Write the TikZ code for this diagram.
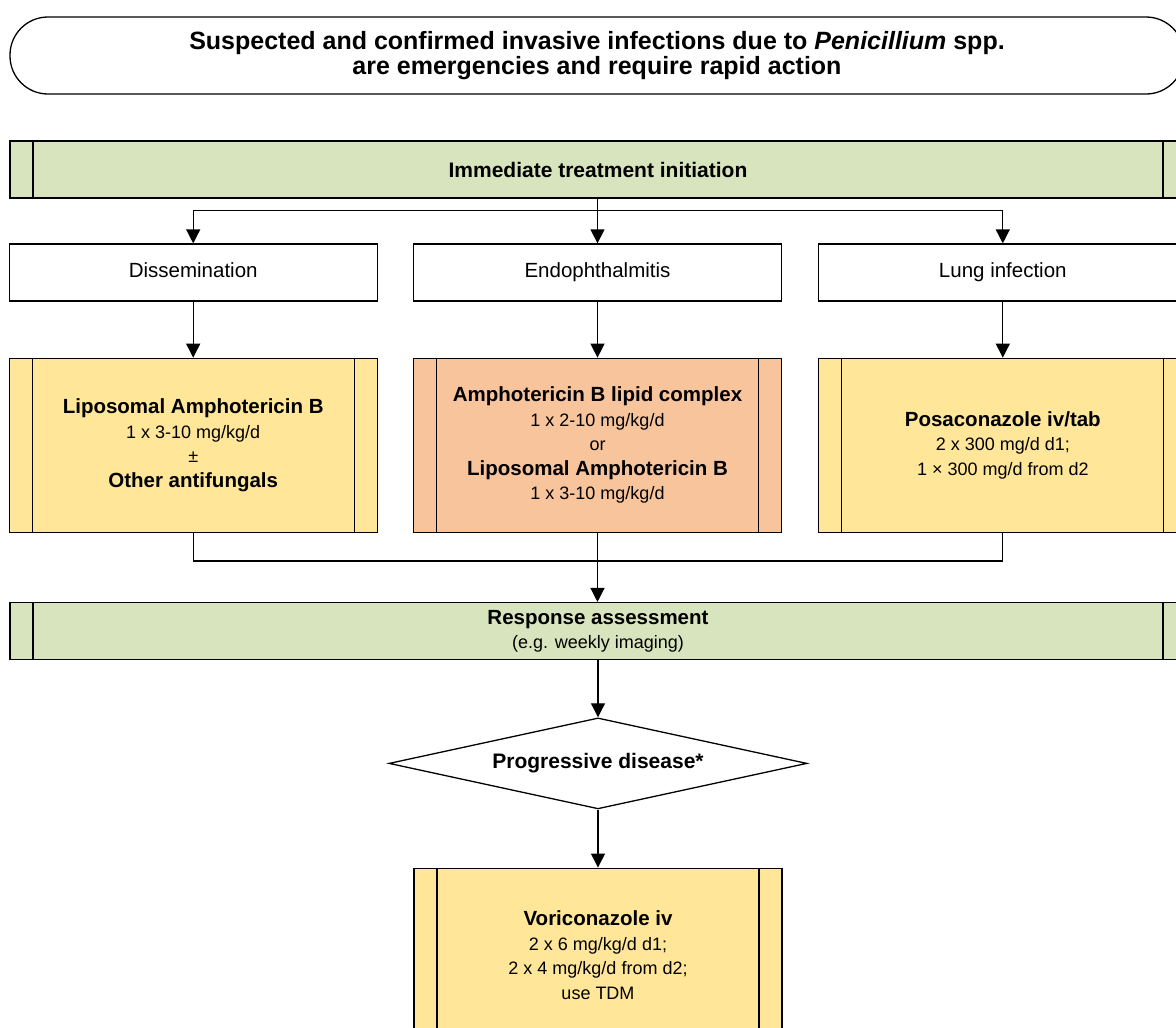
\documentclass[tikz,border=0pt]{standalone}
\usepackage{fontspec}
\setmainfont{Liberation Sans}
\usetikzlibrary{
  arrows.meta,
  positioning,
  shapes.geometric
}
\definecolor{stepgreen}{HTML}{D7E4BD}
\definecolor{drugyellow}{HTML}{FFE699}
\definecolor{drugorange}{HTML}{F8C49C}
\newcommand{\dose}{\fontsize{18}{24}\selectfont}

\begin{document}
\begin{tikzpicture}[
  x=1pt,
  y=-1pt,
  line width=1.3pt,
  font=\fontsize{20.5}{24.5}\selectfont,
  % box with a double bar at each side
  barred/.style={
    draw,
    path picture={
      \draw ([xshift=23pt]path picture bounding box.north west)
        -- ([xshift=23pt]path picture bounding box.south west);
      \draw ([xshift=-23pt]path picture bounding box.north east)
        -- ([xshift=-23pt]path picture bounding box.south east);
    }
  },
  titlebox/.style={
    draw,
    rounded corners=38pt,
    align=center,
    minimum width=1174pt,
    minimum height=77pt,
    font=\fontsize{25}{25}\selectfont\bfseries
  },
  phase/.style={
    barred,
    align=center,
    fill=stepgreen,
    minimum width=1176pt,
    minimum height=57pt,
    inner sep=0pt
  },
  site/.style={
    draw,
    align=center,
    minimum width=368pt,
    minimum height=57pt,
    text height=14pt,
    text depth=4pt
  },
  drug/.style={
    barred,
    align=center,
    fill=drugyellow,
    minimum width=368pt,
    minimum height=174pt
  },
  decision/.style={
    draw,
    diamond,
    aspect=4.6,
    inner sep=0pt,
    minimum width=418pt,
    minimum height=91pt,
    font=\fontsize{21}{24}\selectfont\bfseries
  },
  arrow/.style={
    -{Triangle[length=14pt,width=14pt]}
  }
]

\useasboundingbox (0,0) rectangle (1176,1028);
\clip (0,0) rectangle (1176,1028);

\node[titlebox] (title) at (597,55.5)
  {Suspected and confirmed invasive infections due to \textit{Penicillium} spp.\\
   are emergencies and require rapid action};

\node[phase] (start) at (598,169.5)
  {\fontsize{21}{24}\selectfont\bfseries Immediate treatment initiation};

\node[site] (endo) at (597.5,272.5) {Endophthalmitis};
\node[site,left=35pt of endo] (diss) {Dissemination};
\node[site,right=36pt of endo] (lung) {Lung infection};

\node[drug,below=56pt of diss] (lamb)
  {\textbf{Liposomal Amphotericin B}\\
   {\dose 1 x 3-10 mg/kg/d}\\
   {\dose ±}\\
   \textbf{Other antifungals}};
\node[drug,fill=drugorange,below=56pt of endo] (ablc)
  {\textbf{Amphotericin B lipid complex}\\
   {\dose 1 x 2-10 mg/kg/d}\\
   {\dose or}\\
   \textbf{Liposomal Amphotericin B}\\
   {\dose 1 x 3-10 mg/kg/d}};
\node[drug,below=56pt of lung] (posa)
  {\textbf{Posaconazole iv/tab}\\
   {\dose 2 x 300 mg/d d1;}\\
   {\dose 1 × 300 mg/d from d2}};

\node[phase,below=69pt of ablc,xshift=0.5pt] (resp)
  {\textbf{Response assessment}\\
   {\dose (e.g. weekly imaging)}};

\node[decision,below=57pt of resp] (prog) {Progressive disease*};

\node[drug,below=58pt of prog] (vori)
  {\textbf{Voriconazole iv}\\
   {\dose 2 x 6 mg/kg/d d1;}\\
   {\dose 2 x 4 mg/kg/d from d2;}\\
   {\dose use TDM}};

\coordinate (split) at ([yshift=-12pt]start.south -| endo);
\coordinate (merge) at ([yshift=-28pt]ablc.south);

\draw[arrow] (start.south -| endo) -- (endo.north);
\draw[arrow] (split) -| (diss.north);
\draw[arrow] (split) -| (lung.north);

\draw[arrow] (diss) -- (lamb);
\draw[arrow] (endo) -- (ablc);
\draw[arrow] (lung) -- (posa);

\draw (lamb.south) |- (merge);
\draw (posa.south) |- (merge);
\draw[arrow] (ablc.south) -- (resp.north -| ablc);

\draw[arrow] (resp.south -| prog) -- (prog.north);
\draw[arrow] (prog) -- (vori);

\end{tikzpicture}
\end{document}
